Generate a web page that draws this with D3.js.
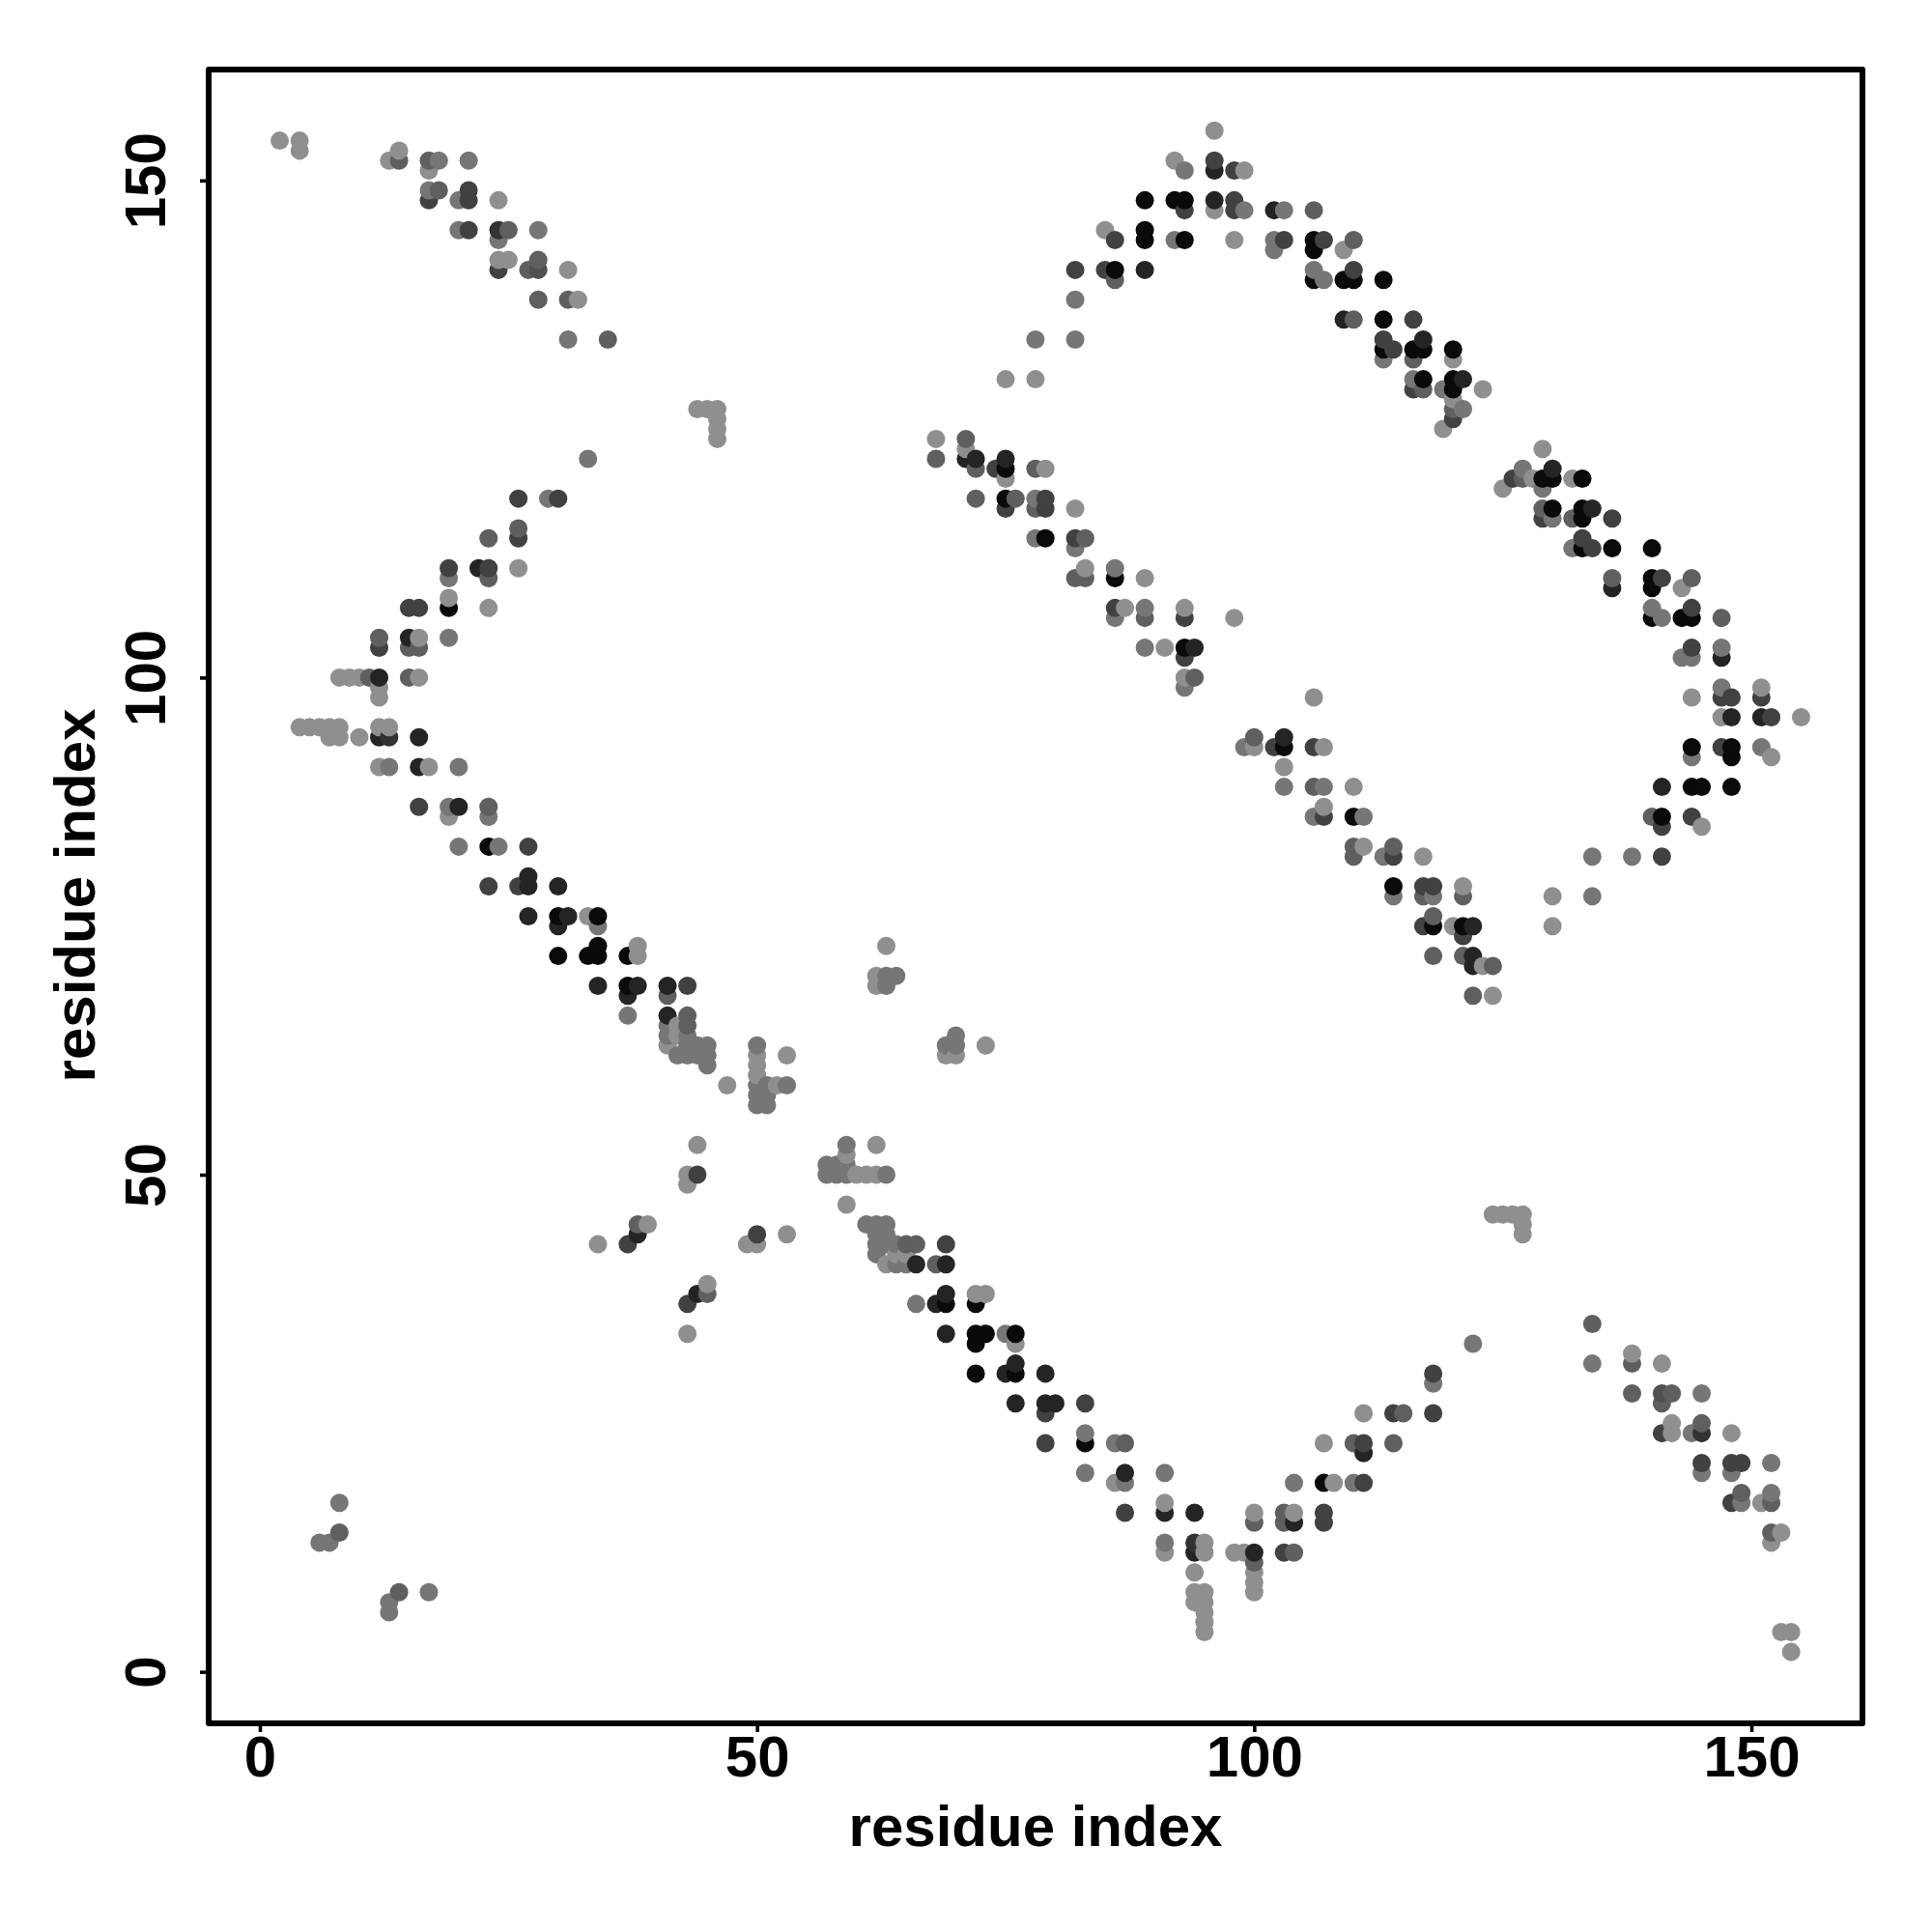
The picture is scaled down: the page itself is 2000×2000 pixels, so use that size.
<!DOCTYPE html>
<html><head><meta charset="utf-8">
<style>html,body{margin:0;padding:0;background:#fff}svg{display:block}text{font-family:"Liberation Sans",Arial,sans-serif;font-weight:bold;fill:#000}</style>
<script src="https://cdn.jsdelivr.net/npm/d3@7"></script>
</head><body><svg id="c" width="2000" height="2000"></svg>
<script>
const tickValues = [0, 50, 100, 150];
const axisTitle = "residue index";
// Symmetric contact map: one triple (residue i, residue j, grey level) per contact with i < j.
const l = 143, m = 118, n = 95, d = 65, v = 36, b = 10;
const contacts1 = [[2,154,l],[4,154,l],[4,153,l],[13,152,l],[14,152,n],[14,153,l],[17,152,n],[18,152,m],[17,151,l],[21,152,m],[17,149,m],[18,149,n],[17,148,d],[20,148,m],[21,149,d],[21,148,d],[24,148,l],[20,145,m],[21,145,d],[24,145,50],[25,145,n],[24,144,m],[28,145,m],[24,142,l],[25,142,l],[24,141,d],[27,141,n],[28,142,n],[28,141,80],[31,141,l],[28,138,n],[31,138,n],[32,138,l],[31,134,m],[35,134,n]];
const contacts2 = [[44,127,l],[45,127,l],[46,127,l],[46,126,l],[46,125,l],[46,124,l],[33,122,m],[26,118,d],[29,118,m],[30,118,d],[26,115,n],[26,114,d],[23,114,n],[19,111,d],[19,110,m],[22,111,v],[23,111,d],[23,110,n],[26,111,l],[15,107,d],[16,107,d],[19,108,l],[19,107,b],[23,107,l],[12,104,n],[12,103,d],[15,104,v],[16,104,l],[15,103,n],[16,103,n],[19,104,m]];
const contacts3 = [[8,100,l],[9,100,l],[10,100,l],[11,100,n],[12,100,v],[15,100,n],[16,100,l],[12,99,l],[12,98,l],[4,95,l],[5,95,l],[6,95,l],[7,95,l],[8,95,l],[7,94,l],[8,94,l],[10,94,l],[12,95,l],[13,95,l],[12,94,v],[13,94,50],[16,94,v],[12,91,l],[13,91,m],[16,91,v],[17,91,l],[20,91,m],[16,87,d],[19,87,m],[20,87,v],[19,86,l],[23,87,n],[23,86,m],[20,83,m],[23,83,b],[24,83,m],[27,83,d],[23,79,d],[26,79,d],[27,80,v],[27,79,v],[30,79,v],[27,76,v],[30,76,b],[31,76,v],[30,75,v],[33,76,l],[34,76,b],[34,75,m],[30,72,b],[33,72,b],[34,73,b],[34,72,b],[37,72,b],[38,73,l],[38,72,l]];
const contacts4 = [[34,69,v],[37,69,b],[38,69,v],[37,68,v],[41,69,v],[43,69,d],[41,68,n],[37,66,m],[41,66,v],[43,66,n],[41,65,m],[43,65,n],[41,64,m],[42,65,l],[41,63,l],[42,64,l],[43,64,m],[42,62,m],[43,63,m],[43,62,m],[44,63,m],[44,62,m],[45,63,m],[45,62,m],[45,61,m],[47,59,l],[50,63,m],[50,62,l],[50,61,l],[50,60,l],[50,59,m],[50,58,m],[50,57,m],[51,59,m],[51,58,m],[51,57,m],[52,59,l],[53,59,m],[53,62,l],[62,69,l],[63,69,m],[62,70,l],[63,70,m],[64,70,m],[63,73,l],[44,53,l],[43,50,l],[44,50,d],[43,49,l],[34,43,l],[37,43,d],[38,44,v],[38,45,n],[39,45,l],[6,13,m],[7,13,m],[8,14,n],[8,17,m]];
const contacts5 = [[96,155,l],[92,152,l],[93,151,m],[96,152,d],[96,151,v],[98,151,d],[99,151,l],[89,148,b],[92,148,b],[93,148,b],[93,147,d],[96,148,v],[96,147,l],[98,148,d],[98,147,d],[99,147,m],[102,147,v],[103,147,m],[106,147,n],[85,145,l],[86,144,d],[89,145,b],[89,144,b],[92,144,m],[93,144,b],[98,144,l],[102,144,m],[102,143,m],[103,144,d],[106,144,b],[106,143,b],[107,144,d],[109,143,l],[110,144,n],[82,141,d],[85,141,d],[86,141,b],[86,140,n],[89,141,v],[106,141,m],[106,140,b],[107,140,m],[109,140,b],[110,140,b],[110,141,d],[113,140,b],[82,138,m],[78,134,m],[82,134,m],[75,130,l],[78,130,l]];
const contacts6 = [[109,136,v],[110,136,n],[113,136,b],[116,136,d],[113,134,d],[113,133,b],[114,133,d],[113,132,m],[116,133,b],[117,134,v],[117,133,b],[116,132,n],[120,133,b],[120,132,l],[116,130,m],[116,129,d],[117,130,b],[117,129,n],[119,129,m],[120,130,b],[121,130,v],[120,129,b],[123,129,l],[120,128,l],[121,127,m],[120,127,n],[120,126,d],[119,125,l]];
const contacts7 = [[68,124,l],[68,122,n],[71,124,n],[71,123,l],[71,122,v],[72,122,v],[72,121,n],[74,121,d],[75,122,v],[75,121,b],[75,120,l],[78,121,n],[79,121,l],[72,118,n],[75,118,b],[75,117,d],[76,118,n],[78,118,m],[79,118,d],[78,117,n],[79,117,d],[82,117,l],[78,114,m],[79,114,b],[82,114,d],[83,114,n],[82,113,m],[82,110,n],[83,111,l],[83,110,n],[86,111,m],[86,110,b],[89,110,l],[86,107,d],[87,107,l],[86,106,m],[89,107,m],[89,106,n],[93,107,l],[93,106,d],[98,106,l],[89,103,m],[91,103,l],[93,103,b],[94,103,v],[93,102,d],[93,100,l],[94,100,n],[93,99,m]];

const triples = [...contacts1, ...contacts2, ...contacts3, ...contacts4, ...contacts5, ...contacts6, ...contacts7];
const points = triples.flatMap(([i, j, g]) => [{x: i, y: j, g}, {x: j, y: i, g}])
  .sort((a, b2) => a.x - b2.x || a.y - b2.y);

const svg = d3.select("#c");
const x = d3.scaleLinear().domain([-5.149, 161.17]).range([216, 1928]);
const y = d3.scaleLinear().domain([-5.18, 161.15]).range([1784, 72]);

svg.append("g").selectAll("circle").data(points).join("circle")
  .attr("cx", p => x(p.x)).attr("cy", p => y(p.y)).attr("r", 9.5)
  .attr("fill", p => d3.rgb(p.g, p.g, p.g).formatHex());

const ax = svg.append("g").attr("transform", "translate(0,1784)")
  .call(d3.axisBottom(x).tickValues(tickValues).tickSize(9).tickSizeOuter(0));
ax.select(".domain").remove();
ax.selectAll("line").attr("stroke", "#000").attr("stroke-width", 3.6);
ax.selectAll("text").attr("font-size", 60).attr("font-family", null).attr("y", 55).attr("dy", null);

const ay = svg.append("g").attr("transform", "translate(216,0)")
  .call(d3.axisLeft(y).tickValues(tickValues).tickSize(9).tickSizeOuter(0));
ay.select(".domain").remove();
ay.selectAll("line").attr("stroke", "#000").attr("stroke-width", 3.6);
ay.selectAll("text").attr("font-size", 60).attr("text-anchor", "middle").attr("dy", null)
  .attr("x", null).attr("transform", "translate(-45.5,0) rotate(-90)");

svg.append("rect").attr("x", 216).attr("y", 72).attr("width", 1712).attr("height", 1712)
  .attr("fill", "none").attr("stroke", "#000").attr("stroke-width", 6).attr("stroke-linejoin", "round");

svg.append("text").attr("x", 1072).attr("y", 1911).attr("text-anchor", "middle").attr("font-size", 60).text(axisTitle);
svg.append("text").attr("transform", "translate(98.3,927) rotate(-90)").attr("text-anchor", "middle").attr("font-size", 60).text(axisTitle);
</script></body></html>
